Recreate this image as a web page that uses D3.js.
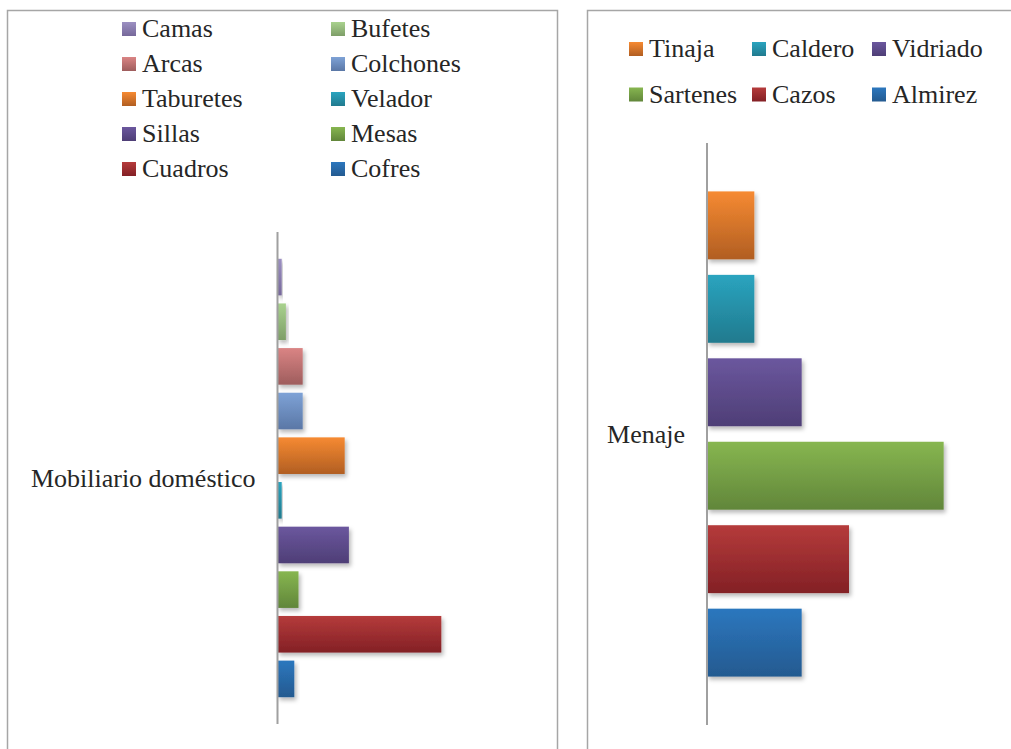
<!DOCTYPE html>
<html lang="es">
<head>
<meta charset="utf-8">
<title>Mobiliario y menaje</title>
<script src="https://d3js.org/d3.v7.min.js"></script>
<style>
  body { margin: 0; background: #fff; }
</style>
</head>
<body>
<div id="container"></div>
<script>
// data
const muebles = ["Camas", "Bufetes", "Arcas", "Colchones", "Taburetes", "Velador", "Sillas", "Mesas", "Cuadros", "Cofres"];
const mueblesValores = [1, 2, 6, 6, 16, 1, 17, 5, 39, 4];
const mueblesColores = [
  ["#9c90c2", "#76689a"], ["#a9d28e", "#7e9e68"], ["#da8484", "#9e5d5d"], ["#7ea2d6", "#5a77a6"],
  ["#f68a32", "#b15e22"], ["#2aa4bf", "#217a8e"], ["#6b579e", "#4e3e76"], ["#87b650", "#61863a"],
  ["#b53b3b", "#832025"], ["#2c77be", "#245a90"]
];
const menaje = ["Tinaja", "Caldero", "Vidriado", "Sartenes", "Cazos", "Almirez"];
const menajeValores = [1, 1, 2, 5, 3, 2];
const menajeColores = [
  ["#f68a32", "#b15e22"], ["#2aa4bf", "#217a8e"], ["#6b579e", "#4e3e76"],
  ["#87b650", "#61863a"], ["#b53b3b", "#832025"], ["#2c77be", "#245a90"]
];

var fuente = "'Liberation Serif', 'Times New Roman', 'DejaVu Serif', serif";
var w = 1011, h = 749;
var svg = d3.select("#container").append("svg").attr("width", w).attr("height", h)
  .attr("font-family", fuente);
var defs = svg.append("defs");

// drop shadow under the bars
var f = defs.append("filter").attr("id", "sombra").attr("x", "-20%").attr("y", "-20%").attr("width", "150%").attr("height", "160%");
f.append("feDropShadow").attr("dx", 2).attr("dy", 3).attr("stdDeviation", 2.2)
  .attr("flood-color", "#000").attr("flood-opacity", 0.28);

function gradiente(id, c) {
  var g = defs.append("linearGradient").attr("id", id).attr("x1", 0).attr("y1", 0).attr("x2", 0).attr("y2", 1);
  g.append("stop").attr("offset", "0%").attr("stop-color", c[0]);
  g.append("stop").attr("offset", "100%").attr("stop-color", c[1]);
}
mueblesColores.forEach((c, i) => gradiente("gm" + i, c));
menajeColores.forEach((c, i) => gradiente("gn" + i, c));

// panel frames
svg.append("rect").attr("x", 7.5).attr("y", 10.5).attr("width", 550).attr("height", 760)
  .attr("fill", "none").attr("stroke", "#a6a6a6").attr("stroke-width", 1.5);
svg.append("rect").attr("x", 587.5).attr("y", 10.5).attr("width", 440).attr("height", 760)
  .attr("fill", "none").attr("stroke", "#a6a6a6").attr("stroke-width", 1.5);

function panel(cfg) {
  var g = svg.append("g");
  var y0 = d3.scaleBand().domain([cfg.categoria]).range([cfg.top, cfg.bottom]);
  var y1 = d3.scaleBand().domain(cfg.series).range([0, y0.bandwidth()])
    .paddingInner(cfg.pi).paddingOuter(cfg.po);
  var x = d3.scaleLinear().domain([0, cfg.max]).range([cfg.x0, cfg.x1]);

  g.selectAll("rect.barra")
    .data(cfg.series)
    .enter()
    .append("rect")
    .attr("class", "barra")
    .attr("x", x(0))
    .attr("y", (d) => y0(cfg.categoria) + y1(d))
    .attr("width", (d, i) => x(cfg.valores[i]) - x(0))
    .attr("height", y1.bandwidth())
    .attr("fill", (d, i) => "url(#" + cfg.pref + i + ")")
    .attr("filter", "url(#sombra)");

  // vertical category axis
  g.append("line").attr("x1", x(0)).attr("x2", x(0)).attr("y1", cfg.top).attr("y2", cfg.bottom)
    .attr("stroke", "#a0a0a0").attr("stroke-width", 2);

  g.append("text").attr("x", x(0) - 22).attr("y", y0(cfg.categoria) + y0.bandwidth() / 2 + 9)
    .attr("text-anchor", "end").attr("font-family", fuente).attr("fill", "#262626")
    .attr("font-size", 26).text(cfg.categoria);

  // legend
  var leg = g.selectAll("g.ley")
    .data(cfg.series)
    .enter()
    .append("g")
    .attr("class", "ley")
    .attr("transform", (d, i) => "translate(" + cfg.legX[i % cfg.cols] + "," + (cfg.legY + Math.floor(i / cfg.cols) * cfg.legDy) + ")");
  leg.append("rect").attr("x", 0).attr("y", -7).attr("width", 14).attr("height", 14)
    .attr("fill", (d, i) => "url(#" + cfg.pref + i + ")");
  leg.append("text").attr("x", 20).attr("y", 8).attr("font-family", fuente).attr("fill", "#262626")
    .attr("font-size", 26).text((d) => d);
}

panel({
  categoria: "Mobiliario doméstico", series: muebles, valores: mueblesValores, pref: "gm",
  top: 232, bottom: 724, pi: 0.18, po: 0.6, max: 45, x0: 277.5, x1: 466.5,
  cols: 2, legX: [122, 331], legY: 29, legDy: 35
});
panel({
  categoria: "Menaje", series: menaje, valores: menajeValores, pref: "gn",
  top: 143, bottom: 725, pi: 0.186, po: 0.58, max: 6, x0: 707, x1: 991,
  cols: 3, legX: [629, 752, 872], legY: 49, legDy: 45.5
});
</script>
</body>
</html>
